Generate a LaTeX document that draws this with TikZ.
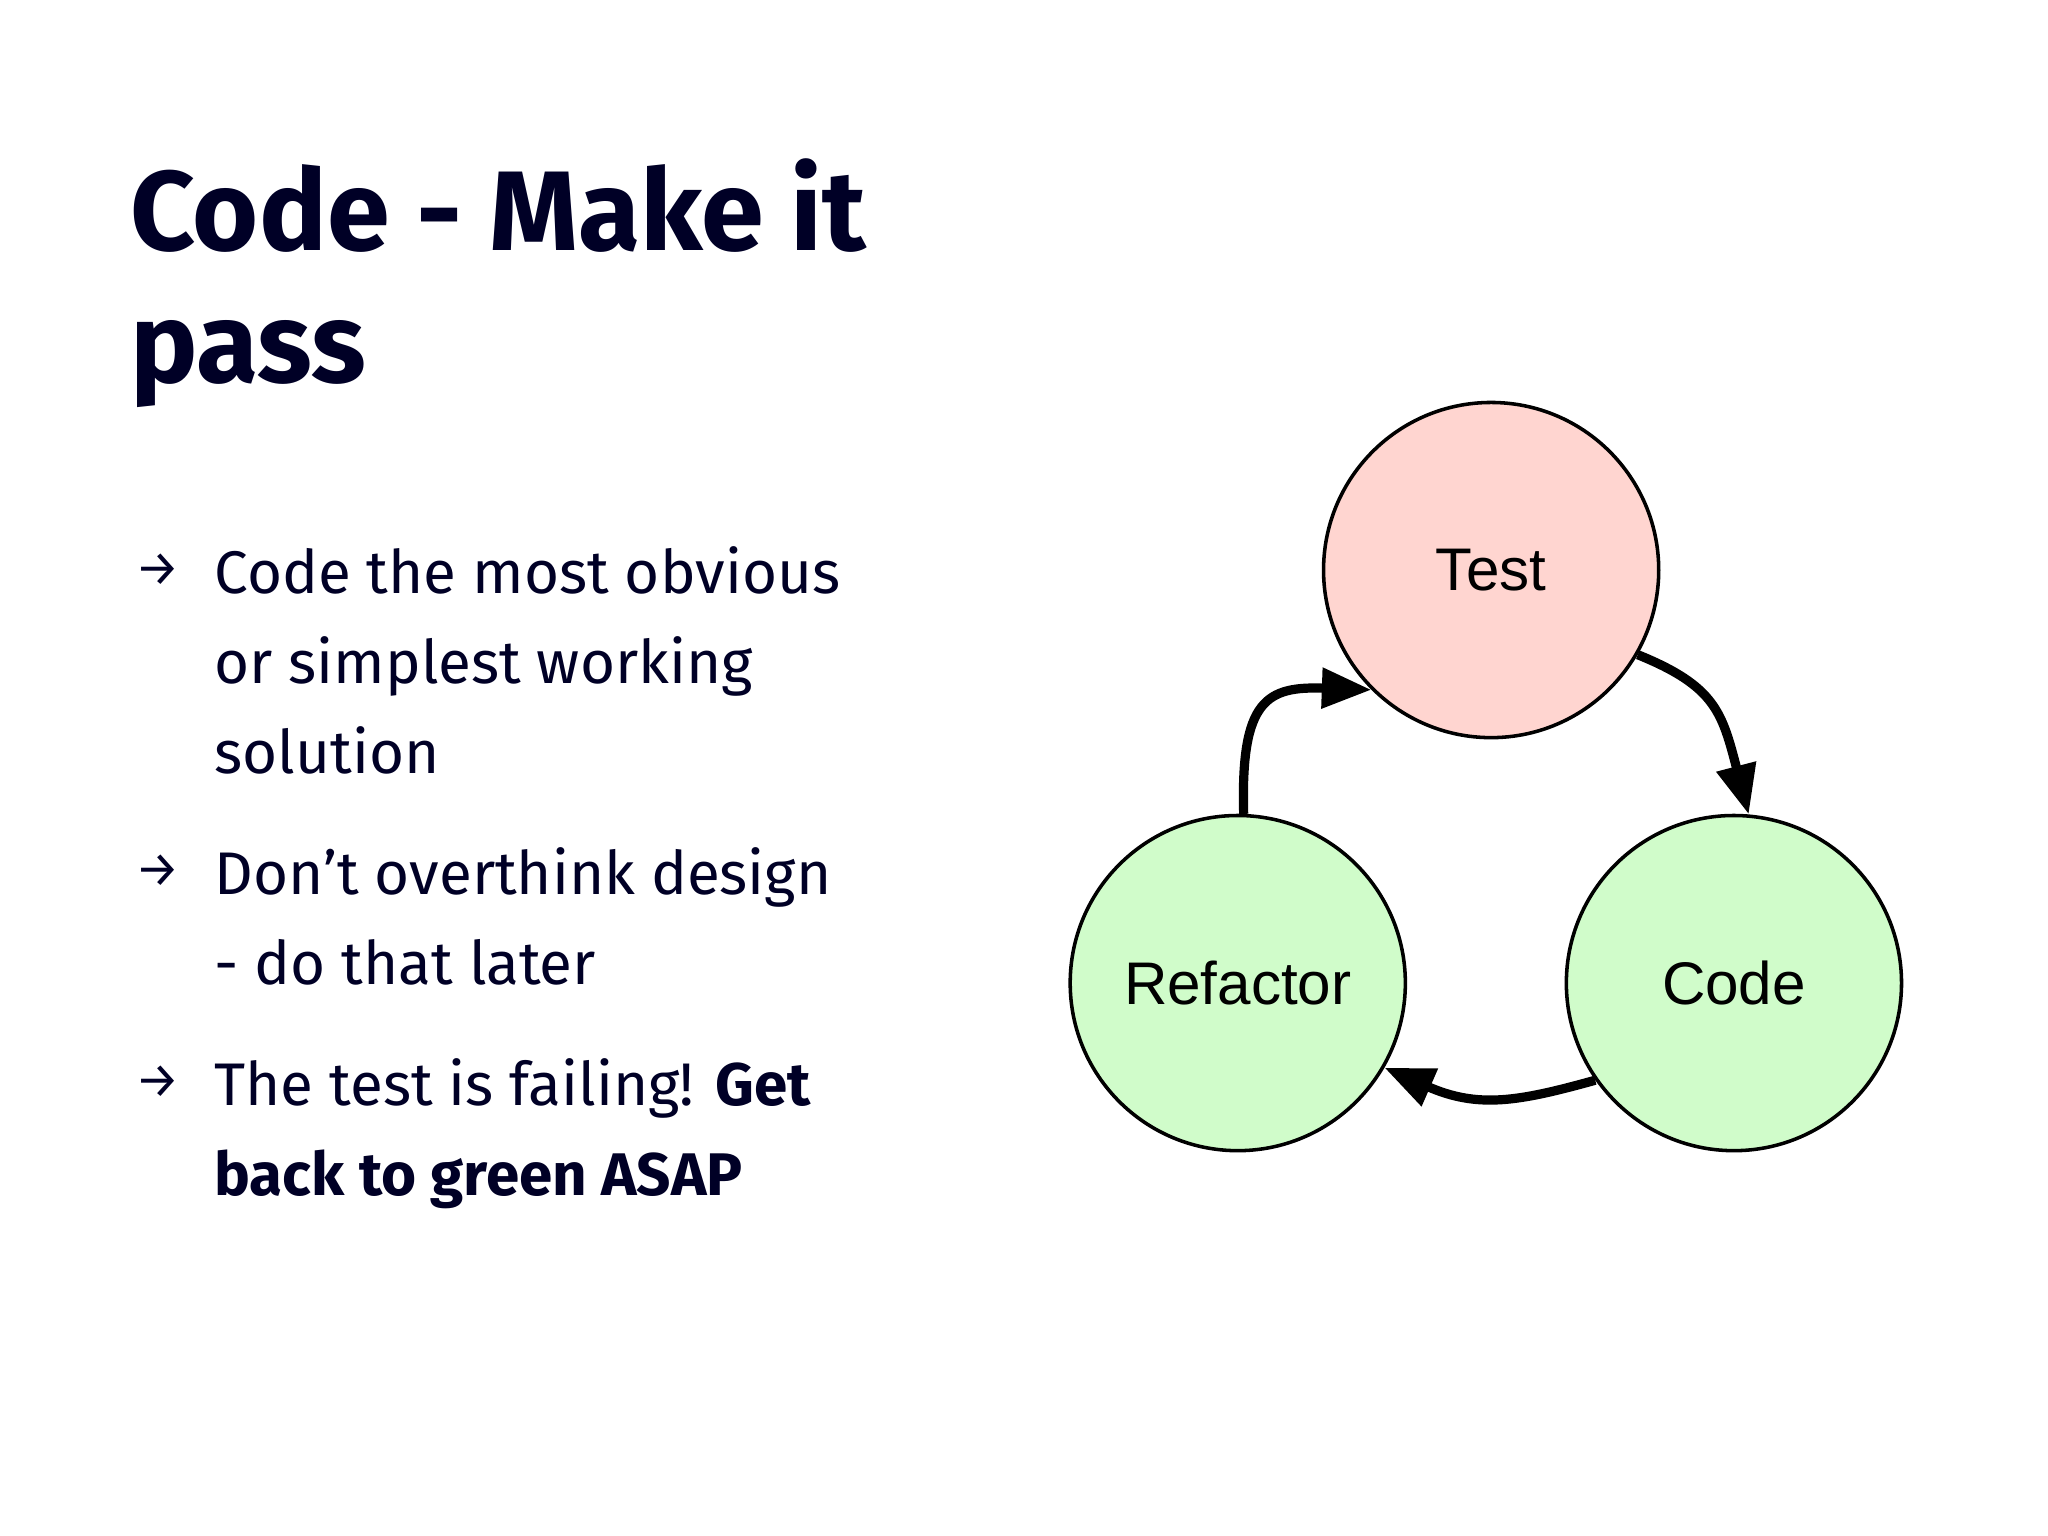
\documentclass[tikz,border=0pt]{standalone}
\usepackage{fontspec}
\setmainfont{Fira Sans}
\newfontfamily\lab{Liberation Sans}
\usetikzlibrary{arrows.meta}
\begin{document}
\begin{tikzpicture}[x=0.0131cm,y=-0.0131cm,
  circ/.style={circle,draw=black,line width=1pt,minimum size=254*0.0131cm,inner sep=0pt,font=\lab\fontsize{17}{20}\selectfont},
  flow/.style={line width=2.6pt,-{Triangle[length=14pt,width=11pt]}},
  ln/.style={anchor=base west,inner sep=0pt,font=\fontsize{17}{20}\selectfont,text=black!85!blue},
  bul/.style={anchor=base west,inner sep=0pt,font=\fontsize{14}{16}\selectfont,text=black!85!blue},
  ttl/.style={anchor=base west,inner sep=0pt,font=\bfseries\fontsize{32}{38}\selectfont,text=black!85!blue}]
\useasboundingbox[fill=white] (0,0) rectangle (1552,1164);
\node[ttl] (t1) at (98,190) {Code - Make it};
\node[ttl] (t2) at (98,290) {pass};
\node[bul] (b1) at (102,444) {→};
\node[ln] (l1) at (162,450) {Code the most obvious};
\node[ln] (l2) at (162,518) {or simplest working};
\node[ln] (l3) at (162,586) {solution};
\node[bul] (b2) at (102,672) {→};
\node[ln] (l4) at (162,678) {Don’t overthink design};
\node[ln] (l5) at (162,746) {- do that later};
\node[bul] (b3) at (102,832) {→};
\node[ln] (l6) at (162,838) {The test is failing! \textbf{Get}};
\node[ln] (l7) at (162,906) {\textbf{back to green ASAP}};
\node[circ,fill={rgb,255:red,255;green,213;blue,208}] (test) at (1130,432) {Test};
\node[circ,fill={rgb,255:red,208;green,252;blue,202}] (ref) at (938,745) {Refactor};
\node[circ,fill={rgb,255:red,208;green,252;blue,202}] (code) at (1314,745) {Code};
\draw[flow] (test.-30) .. controls (1300,520) and (1305,540) .. (code.85);
\draw[flow] (code.-145) .. controls (1150,835) and (1120,840) .. (ref.-30);
\draw[flow] (ref.88) .. controls (940,530) and (960,520) .. (test.-135);
\end{tikzpicture}
\end{document}
